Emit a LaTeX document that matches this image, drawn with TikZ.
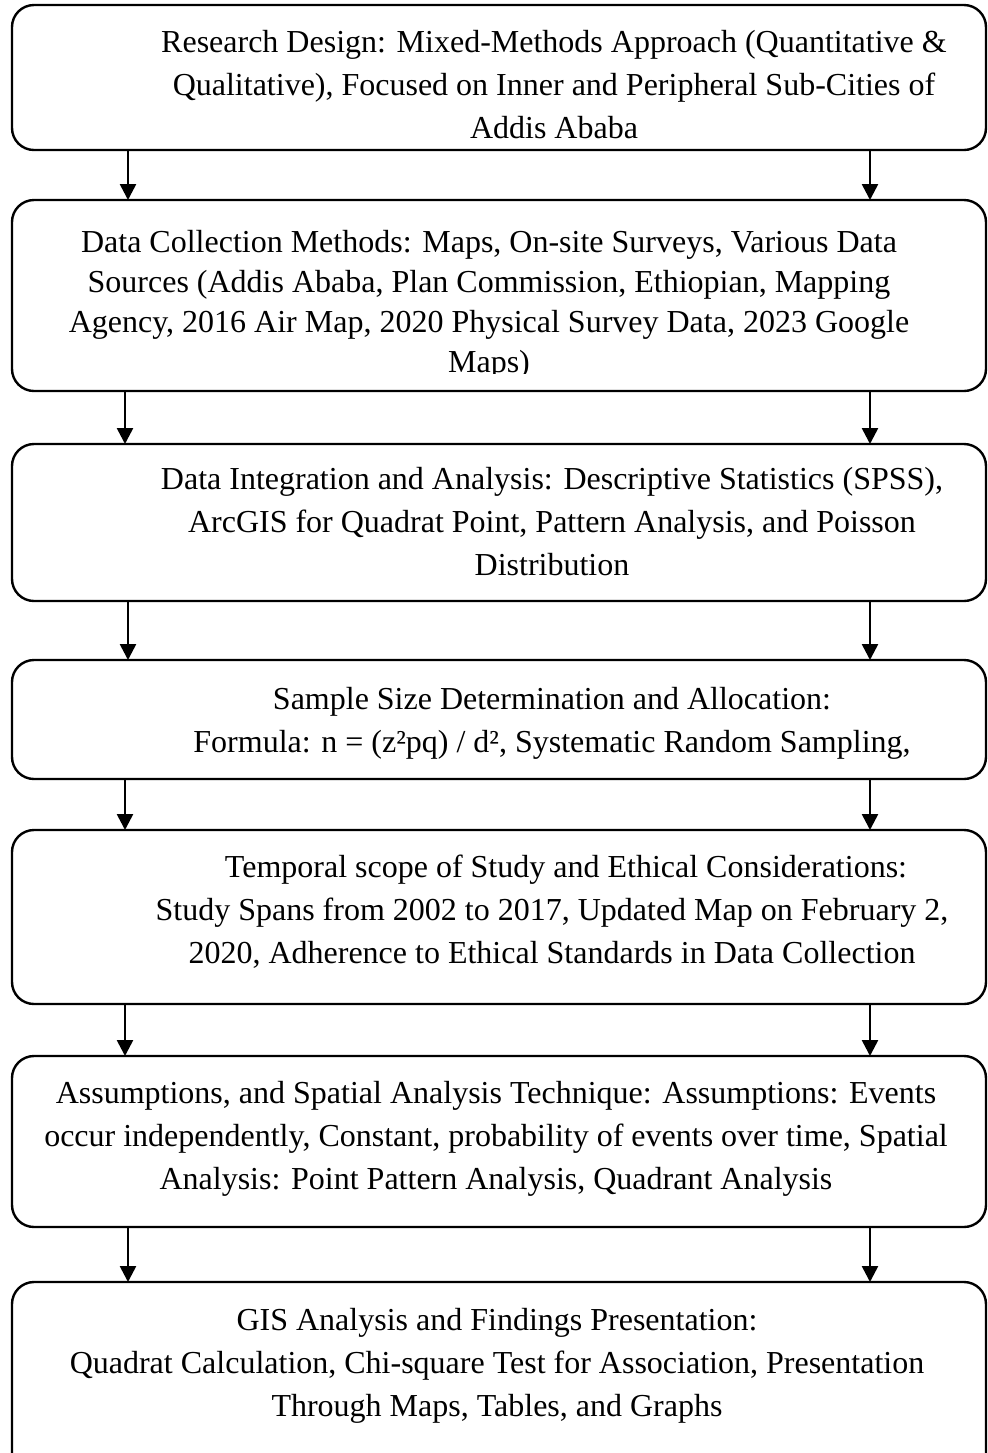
\documentclass[tikz,border=0pt]{standalone}
\usepackage{fontspec}
\setmainfont{Liberation Serif}
\usetikzlibrary{arrows.meta}
\tikzset{
  box/.style={draw, line width=1.2pt, rounded corners=11pt, inner sep=0pt, outer sep=0pt, minimum width=487pt},
  txt/.style={align=center, inner sep=0pt, font=\fontsize{16pt}{21.5pt}\selectfont},
  txttight/.style={align=center, inner sep=0pt, font=\fontsize{16pt}{20pt}\selectfont},
  arr/.style={line width=1.3pt, -{Triangle[width=8pt,length=8pt]}}
}
\begin{document}
\begin{tikzpicture}[x=0.5pt,y=-0.5pt]
\clip (0,0) rectangle (988,1453);
\fill[white] (0,0) rectangle (988,1453);
% boxes
\node[box, minimum height=72.5pt] (b1) at (499,77.5) {};
\node[box, minimum height=95.5pt] (b2) at (499,295.5) {};
\node[box, minimum height=78.5pt] (b3) at (499,522.5) {};
\node[box, minimum height=59.5pt] (b4) at (499,719.5) {};
\node[box, minimum height=87pt] (b5) at (499,917) {};
\node[box, minimum height=85.5pt] (b6) at (499,1141.5) {};
\node[box, minimum height=96.5pt] (b7) at (499,1378.5) {};
% texts
\node[txt] (t1) at (554,85) {Research Design: Mixed-Methods Approach (Quantitative \&\\Qualitative), Focused on Inner and Peripheral Sub-Cities of\\Addis Ababa};
\begin{scope}
\clip (0,0) rectangle (988,373);
\node[txttight] (t2) at (489,305) {Data Collection Methods: Maps, On-site Surveys, Various Data\\Sources (Addis Ababa, Plan Commission, Ethiopian, Mapping\\Agency, 2016 Air Map, 2020 Physical Survey Data, 2023 Google\\Maps)};
\end{scope}
\node[txt] (t3) at (552,522) {Data Integration and Analysis: Descriptive Statistics (SPSS),\\ArcGIS for Quadrat Point, Pattern Analysis, and Poisson\\Distribution};
\node[txt] (t4) at (552,723) {Sample Size Determination and Allocation:\\Formula: n = (z²pq) / d², Systematic Random Sampling,};
\node[txt] (t5) at (552,912) {\hspace*{14pt}Temporal scope of Study and Ethical Considerations:\\Study Spans from 2002 to 2017, Updated Map on February 2,\\2020, Adherence to Ethical Standards in Data Collection};
\node[txt] (t6) at (496,1139) {Assumptions, and Spatial Analysis Technique: Assumptions: Events\\occur independently, Constant, probability of events over time, Spatial\\Analysis: Point Pattern Analysis, Quadrant Analysis};
\node[txt] (t7) at (497,1366) {GIS Analysis and Findings Presentation:\\Quadrat Calculation, Chi-square Test for Association, Presentation\\Through Maps, Tables, and Graphs};
% arrow x positions
\coordinate (La) at (128,0);
\coordinate (Lb) at (125,0);
\coordinate (R) at (870,0);
\draw[arr] (b1.south -| La) -- (b2.north -| La);
\draw[arr] (b1.south -| R) -- (b2.north -| R);
\draw[arr] (b2.south -| Lb) -- (b3.north -| Lb);
\draw[arr] (b2.south -| R) -- (b3.north -| R);
\draw[arr] (b3.south -| La) -- (b4.north -| La);
\draw[arr] (b3.south -| R) -- (b4.north -| R);
\draw[arr] (b4.south -| Lb) -- (b5.north -| Lb);
\draw[arr] (b4.south -| R) -- (b5.north -| R);
\draw[arr] (b5.south -| Lb) -- (b6.north -| Lb);
\draw[arr] (b5.south -| R) -- (b6.north -| R);
\draw[arr] (b6.south -| La) -- (b7.north -| La);
\draw[arr] (b6.south -| R) -- (b7.north -| R);
\end{tikzpicture}
\end{document}
